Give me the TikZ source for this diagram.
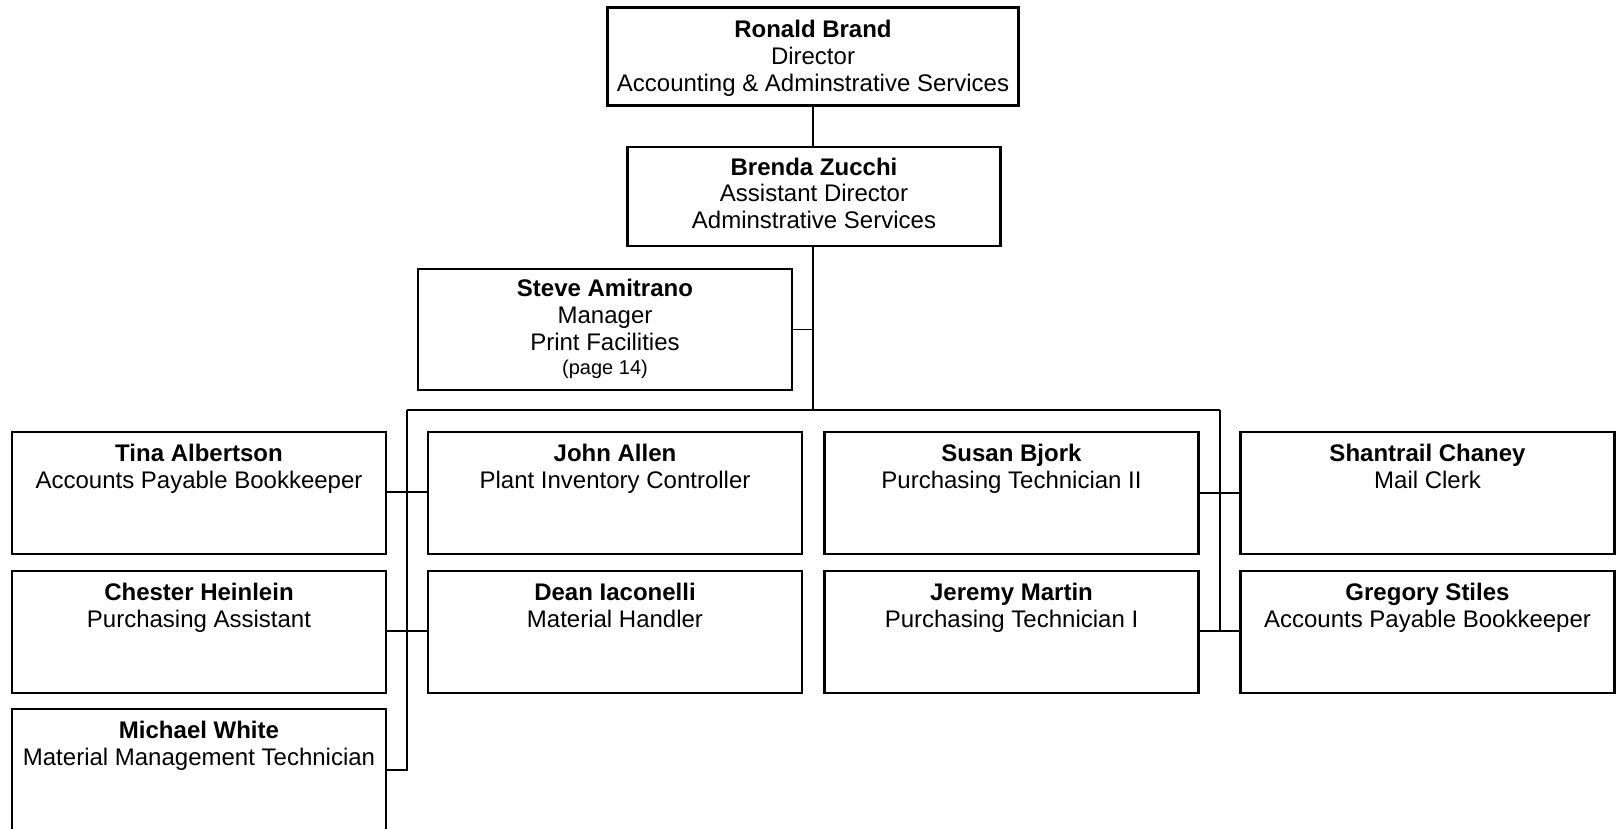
\documentclass[tikz,border=0pt]{standalone}
\usepackage{fontspec}
\setmainfont{Liberation Sans}
\newcommand\mystrut{\rule{0pt}{18pt}}
\begin{document}
\begin{tikzpicture}[x=1pt,y=-1pt,
  box/.style={draw, line width=2.8pt, inner sep=0pt, outer sep=0pt, line join=miter},
  colbox/.style={box, minimum width=374pt, minimum height=122pt},
  txt/.style={anchor=north, inner sep=0pt, outer sep=0pt, align=center, font=\fontsize{24}{27}\selectfont},
  conn/.style={draw, line width=1.3pt}]
\useasboundingbox (0,0) rectangle (1616,829);
% top boxes
\node[box, minimum width=411pt, minimum height=98pt] (ronald) at (813,56.5) {};
\node[txt] (ronaldt) at ([yshift=-12pt]ronald.north) {\mystrut\textbf{Ronald Brand}\\Director\\Accounting \& Adminstrative Services};
\node[box, minimum width=373pt, minimum height=99pt] (brenda) at (814,196.5) {};
\node[txt] (brendat) at ([yshift=-10pt]brenda.north) {\mystrut\textbf{Brenda Zucchi}\\Assistant Director\\Adminstrative Services};
\node[box, minimum width=374pt, minimum height=121pt] (steve) at (605,329.5) {};
\node[txt] (stevet) at ([yshift=-9pt]steve.north) {\mystrut\textbf{Steve Amitrano}\\Manager\\Print Facilities\\[-3pt]{\fontsize{20}{22}\selectfont (page 14)}};
% column 1
\node[colbox] (tina) at (199,493) {};
\node[txt] (tinat) at ([yshift=-11pt]tina.north) {\mystrut\textbf{Tina Albertson}\\Accounts Payable Bookkeeper};
\node[colbox] (chester) at (199,632) {};
\node[txt] (chestert) at ([yshift=-11pt]chester.north) {\mystrut\textbf{Chester Heinlein}\\Purchasing Assistant};
\node[colbox] (michael) at (199,770) {};
\node[txt] (michaelt) at ([yshift=-11pt]michael.north) {\mystrut\textbf{Michael White}\\Material Management Technician};
% column 2
\node[colbox] (john) at (615,493) {};
\node[txt] (johnt) at ([yshift=-11pt]john.north) {\mystrut\textbf{John Allen}\\Plant Inventory Controller};
\node[colbox] (dean) at (615,632) {};
\node[txt] (deant) at ([yshift=-11pt]dean.north) {\mystrut\textbf{Dean Iaconelli}\\Material Handler};
% column 3
\node[colbox] (susan) at (1011.5,493) {};
\node[txt] (susant) at ([yshift=-11pt]susan.north) {\mystrut\textbf{Susan Bjork}\\Purchasing Technician II};
\node[colbox] (jeremy) at (1011.5,632) {};
\node[txt] (jeremyt) at ([yshift=-11pt]jeremy.north) {\mystrut\textbf{Jeremy Martin}\\Purchasing Technician I};
% column 4
\node[colbox] (shantrail) at (1427.5,493) {};
\node[txt] (shantrailt) at ([yshift=-11pt]shantrail.north) {\mystrut\textbf{Shantrail Chaney}\\Mail Clerk};
\node[colbox] (gregory) at (1427.5,632) {};
\node[txt] (gregoryt) at ([yshift=-11pt]gregory.north) {\mystrut\textbf{Gregory Stiles}\\Accounts Payable Bookkeeper};
% connectors
\coordinate (busL) at (407,410);
\coordinate (busR) at (1220,410);
\coordinate (busM) at (813,410);
\path[conn] (busM |- ronald.south) -- (busM |- brenda.north);
\path[conn] (busM |- brenda.south) -- (busM);
\path[conn] (steve.east) -- (steve.east -| busM);
\path[conn] (busL) -- (busR);
\path[conn] (busL) -- (busL |- michael.east) -- (michael.east);
\path[conn] (busR) -- (busR |- jeremy.east);
\path[conn] ([yshift=1pt]tina.east) -- ([yshift=1pt]john.west);
\path[conn] ([yshift=1pt]chester.east) -- ([yshift=1pt]dean.west);
\path[conn] (susan.east) -- (shantrail.west);
\path[conn] ([yshift=1pt]jeremy.east) -- ([yshift=1pt]gregory.west);
\end{tikzpicture}
\end{document}
